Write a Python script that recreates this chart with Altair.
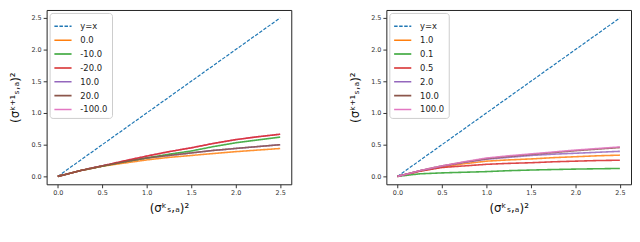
import altair as alt
import pandas as pd

x_vals = [0.0, 0.25, 0.5, 0.75, 1.0, 1.25, 1.5, 1.75, 2.0, 2.25, 2.5]
diag_x = [0.0, 2.5]

# left panel series
left_names = ["y=x", "0.0", "-10.0", "-20.0", "10.0", "20.0", "-100.0"]
left_orange = [0, 0.09, 0.16, 0.21, 0.26, 0.30, 0.33, 0.36, 0.39, 0.415, 0.44]
left_green = [0, 0.09, 0.16, 0.23, 0.29, 0.35, 0.40, 0.47, 0.53, 0.575, 0.62]
left_red = [0, 0.09, 0.165, 0.245, 0.32, 0.39, 0.45, 0.52, 0.58, 0.625, 0.665]
left_purple = [0, 0.09, 0.165, 0.23, 0.29, 0.33, 0.37, 0.41, 0.44, 0.47, 0.50]
left_brown = [0, 0.09, 0.165, 0.23, 0.29, 0.33, 0.37, 0.41, 0.44, 0.47, 0.50]
left_pink = [0, 0.09, 0.165, 0.245, 0.32, 0.39, 0.45, 0.52, 0.58, 0.625, 0.665]

# right panel series
right_names = ["y=x", "1.0", "0.1", "0.5", "2.0", "10.0", "100.0"]
right_orange = [0, 0.085, 0.15, 0.20, 0.24, 0.26, 0.275, 0.295, 0.31, 0.325, 0.335]
right_green = [0, 0.04, 0.055, 0.065, 0.075, 0.09, 0.10, 0.108, 0.115, 0.12, 0.125]
right_red = [0, 0.08, 0.14, 0.165, 0.19, 0.205, 0.215, 0.23, 0.24, 0.25, 0.255]
right_purple = [0, 0.09, 0.16, 0.22, 0.27, 0.30, 0.33, 0.35, 0.365, 0.38, 0.395]
right_brown = [0, 0.09, 0.165, 0.225, 0.28, 0.315, 0.345, 0.375, 0.405, 0.43, 0.455]
right_pink = [0, 0.09, 0.165, 0.23, 0.29, 0.325, 0.355, 0.385, 0.415, 0.44, 0.465]

colors = ["#1f77b4", "#ff7f0e", "#2ca02c", "#d62728", "#9467bd", "#8c564b", "#e377c2"]
dashes = [[3.5, 1.6]] + [[1, 0]] * 6

tick_values = [0.0, 0.5, 1.0, 1.5, 2.0, 2.5]
dom = [-0.125, 2.625]
xtitle = "(σᵏₛ,ₐ)²"
ytitle = "(σᵏ⁺¹ₛ,ₐ)²"


def build(names, series, draw_order, field):
    rows = []
    for xv in diag_x:
        rows.append({"x": xv, "y": xv, field: names[0]})
    for name, ys in zip(names[1:], series):
        for xv, yv in zip(x_vals, ys):
            rows.append({"x": xv, "y": yv, field: name})
    df = pd.DataFrame(rows)
    leg = alt.Legend(title=None, orient="top-left", offset=3)
    base = alt.Chart(df).encode(
        x=alt.X("x:Q", scale=alt.Scale(domain=dom, nice=False, zero=False),
                axis=alt.Axis(values=tick_values, format=".1f", title=xtitle,
                              titleY=23, titleBaseline="middle")),
        y=alt.Y("y:Q", scale=alt.Scale(domain=dom, nice=False, zero=False),
                axis=alt.Axis(values=tick_values, format=".1f", title=ytitle,
                              titleX=-32, titleY=88, titleBaseline="middle")),
        color=alt.Color(f"{field}:N", scale=alt.Scale(domain=names, range=colors), legend=leg),
        strokeDash=alt.StrokeDash(f"{field}:N", scale=alt.Scale(domain=names, range=dashes), legend=leg),
    )
    layers = []
    for name in draw_order:
        w = 1.2 if name == "y=x" else 1.6
        op = 1.0 if name == "y=x" else 0.85
        layers.append(
            base.transform_filter(alt.datum[field] == name)
            .mark_line(strokeWidth=w, opacity=op)
        )
    return alt.layer(*layers).properties(width=247, height=176)


left = build(left_names,
             [left_orange, left_green, left_red, left_purple, left_brown, left_pink],
             ["y=x", "-100.0", "10.0", "0.0", "-10.0", "-20.0", "20.0"], "s1")
right = build(right_names,
              [right_orange, right_green, right_red, right_purple, right_brown, right_pink],
              ["y=x", "1.0", "0.1", "0.5", "2.0", "10.0", "100.0"], "s2")

chart = (
    alt.hconcat(left, right, spacing=56)
    .resolve_scale(color="independent", strokeDash="independent")
    .resolve_legend(color="independent", strokeDash="independent")
    .properties(padding={"left": 0, "top": 0, "right": 0, "bottom": 0})
    .configure_view(stroke="#222", strokeWidth=1)
    .configure_axis(
        grid=False, domain=False, labelFont="DejaVu Sans", labelFontSize=6.5,
        labelColor="#333", tickColor="#333", tickSize=3.5, labelPadding=2,
        titleFont="DejaVu Sans", titleFontSize=12, titleFontWeight="normal",
        titleColor="#111",
    )
    .configure_legend(
        labelFont="DejaVu Sans", labelFontSize=8.5, labelColor="#222",
        symbolType="stroke", symbolSize=300, symbolStrokeWidth=1.6,
        strokeColor="#cccccc", fillColor="white", cornerRadius=3, padding=4,
        rowPadding=0, labelOffset=8,
    )
)

chart.save("out.html", embed_options={"renderer": "svg", "actions": False})
